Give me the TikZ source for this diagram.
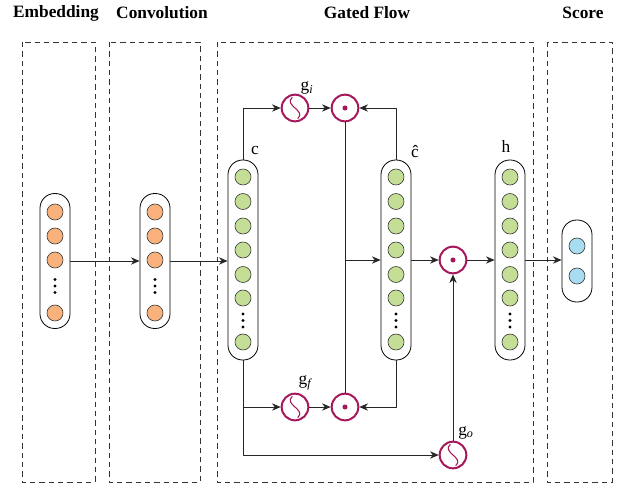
\documentclass[tikz,border=0pt]{standalone}
\usepackage{fontspec}
\setmainfont{Liberation Serif}
\usetikzlibrary{arrows.meta,positioning,calc}
\definecolor{gatered}{RGB}{165,24,92}
\definecolor{embfill}{RGB}{249,178,124}
\definecolor{cellfill}{RGB}{196,222,150}
\definecolor{scorefill}{RGB}{168,220,240}

\begin{document}
\begin{tikzpicture}[x=0.75pt,y=-0.75pt,line join=round,
		font=\fontsize{13}{15}\selectfont,
		>={Stealth[length=6.5pt,width=5.5pt]},
		stage/.style={draw=black!80,dash pattern=on 4pt off 3pt,line width=0.6pt},
		title/.style={font=\fontsize{13}{15}\selectfont\bfseries},
		capsule/.style={draw,line width=0.6pt,rounded corners=11pt,minimum width=22.5pt,inner sep=0pt},
		unit/.style={circle,draw=black!75,line width=0.5pt,minimum size=12pt,inner sep=0pt},
		gate/.style={circle,draw=gatered,line width=1.5pt,minimum size=20pt,inner sep=0pt},
		sig/.style={gate,path picture={\draw[gatered,line width=0.8pt]
				([shift={(-2pt,8pt)}]path picture bounding box.center)
				.. controls +(-7pt,-6pt) and +(7pt,6pt) ..
				([shift={(2pt,-8pt)}]path picture bounding box.center);}},
		prod/.style={gate,path picture={\fill[gatered] (path picture bounding box.center) circle (1.9pt);}},
		link/.style={line width=0.6pt,black!85}]
	\useasboundingbox (0,0) rectangle (617,486);
	
	% stages
	\draw[stage] (22,42) rectangle (95,482);
	\draw[stage] (109,42) rectangle (200,482);
	\draw[stage] (217,42) rectangle (533,482);
	\draw[stage] (547,42) rectangle (612,482);
	
	\node[title] (tEmb) at (56,13) {Embedding};
	\node[title] (tConv) at (162,13) {Convolution};
	\node[title] (tFlow) at (367,13) {Gated Flow};
	\node[title] (tScore) at (583,13) {Score};
	
	% embedding and convolution
	\node[capsule,minimum height=101.25pt] (emb) at (55,261) {};
	\node[capsule,minimum height=101.25pt] (conv) at (155,261) {};
	\foreach \y [count=\i] in {212,236,260,313}{
		\node[unit,fill=embfill] (e\i) at (55,\y) {};
		\node[unit,fill=embfill] (v\i) at (155,\y) {};
	}
	\foreach \d in {279.5,286,292.5}{
		\fill (55,\d) circle (1.3pt);
		\fill (155,\d) circle (1.3pt);
	}
	
	% c, c-hat and h
	\node[capsule,minimum height=150pt] (c) at (243,260) {};
	\node[capsule,minimum height=150pt] (chat) at (396,260) {};
	\node[capsule,minimum height=150pt] (h) at (510,260) {};
	\foreach \y [count=\i] in {177,201.5,226,250,274.5,298,342}{
		\node[unit,fill=cellfill] (c\i) at (243,\y) {};
		\node[unit,fill=cellfill] (ch\i) at (396,\y) {};
		\node[unit,fill=cellfill] (h\i) at (510,\y) {};
	}
	\foreach \d in {314,320.5,327}{
		\fill (243,\d) circle (1.3pt);
		\fill (396,\d) circle (1.3pt);
		\fill (510,\d) circle (1.3pt);
	}
	\node (lc) at (255,150) {c};
	\node (lch) at (415,152) {\^{c}};
	\node (lh) at (506,146) {h};
	
	% score
	\node[capsule,minimum height=61.5pt] (score) at (577,261) {};
	\node[unit,fill=scorefill] (s1) at (577,246) {};
	\node[unit,fill=scorefill] (s2) at (577,276) {};
	
	% gates
	\node[sig] (gi) at (295,108) {};
	\node[prod] (oi) at (345,108) {};
	\node[sig] (gf) at (295,407) {};
	\node[prod] (of) at (345,407) {};
	\node[sig] (go) at (453,455) {};
	\node[prod] (om) at (453,260) {};
	\node (lgi) at (307,88) {g\textsubscript{\itshape i}};
	\node (lgf) at (305,383) {g\textsubscript{\itshape f}};
	\node (lgo) at (466,433) {g\textsubscript{\itshape o}};
	
	\coordinate (mid) at (oi |- chat);
	
	% connectors
	\draw[link,->] (emb) -- (conv);
	\draw[link,->] (conv.east) -- (conv.east -| c.west);
	\draw[link,->] (c.north) |- (gi);
	\draw[link,->] (gi) -- (oi);
	\draw[link,->] (chat.north) |- (oi);
	\draw[link] (oi) -- (of);
	\draw[link,->] (mid) -- (chat.west |- mid);
	\draw[link,->] (c.south) |- (gf);
	\draw[link,->] (c.south) |- (go);
	\draw[link,->] (gf) -- (of);
	\draw[link,->] (chat.south) |- (of);
	\draw[link,->] (chat) -- (om);
	\draw[link,->] (go) -- (om);
	\draw[link,->] (om) -- (h);
	\draw[link,->] (h) -- (h -| score.west);
\end{tikzpicture}
\end{document}
